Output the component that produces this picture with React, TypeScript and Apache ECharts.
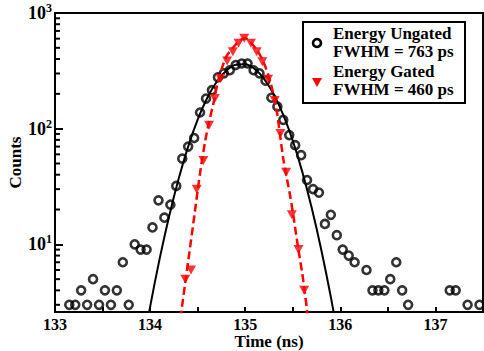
import React, { useEffect, useRef } from 'react';
import * as echarts from 'echarts';

// Ungated (open circles) data
const ungatedTime = [
  133.15, 133.213, 133.275, 133.338, 133.4, 133.463, 133.525, 133.588, 133.65, 133.713,
  133.775, 133.838, 133.9, 133.963, 134.025, 134.088, 134.15, 134.213, 134.275, 134.338,
  134.4, 134.463, 134.525, 134.588, 134.65, 134.713, 134.775, 134.838, 134.9, 134.963,
  135.025, 135.088, 135.15, 135.213, 135.275, 135.338, 135.4, 135.463, 135.525, 135.588,
  135.65, 135.713, 135.775, 135.838, 135.9, 135.963, 136.025, 136.088, 136.15, 136.275,
  136.338, 136.4, 136.463, 136.525, 136.588, 136.65, 136.713, 137.15, 137.213, 137.338,
  137.463,
];
const ungatedCounts = [
  3, 3, 4, 3, 5, 3, 4, 3, 4, 7,
  3, 10, 9, 9, 14, 24, 17, 22, 32, 55,
  70, 83, 138, 182, 215, 278, 301, 320, 355, 366,
  366, 320, 301, 260, 185, 155, 119, 88, 72, 59,
  36, 30, 28, 15, 18, 12, 9, 8, 7, 6,
  4, 4, 4, 5, 7, 4, 3, 4, 4, 3,
  3,
];

// Gated (filled triangles) data
const gatedTime = [
  134.37, 134.43, 134.49, 134.56, 134.62, 134.68, 134.74, 134.81, 134.87, 134.93,
  134.99, 135.06, 135.12, 135.18, 135.24, 135.31, 135.37, 135.43, 135.49, 135.56,
  135.62,
];
const gatedCounts = [
  5, 6, 30, 53, 107, 182, 272, 385, 462, 547,
  604, 547, 462, 379, 268, 175, 91, 42, 18, 9,
  4,
];

// Fit curves
const ungatedFitTime = [
  133.9, 134.0, 134.1, 134.2, 134.3, 134.4, 134.5, 134.6, 134.7, 134.8, 134.9,
  135.0, 135.1, 135.2, 135.3, 135.4, 135.5, 135.6, 135.7, 135.8, 135.9, 136.0,
];
const ungatedFitCounts = [
  1.0, 2.88, 7.48, 17.5, 36.9, 70.0, 119.7, 183.9, 254.6, 317.4, 356.3,
  360.1, 327.5, 268.4, 197.8, 131.4, 78.6, 42.3, 20.5, 8.94, 3.51, 1.24,
];
const gatedFitTime = [
  134.30, 134.33, 134.40, 134.47, 134.53, 134.58, 134.61, 134.67, 134.71, 134.76,
  134.80, 134.88, 134.95, 135.00, 135.05, 135.13, 135.19, 135.26, 135.33, 135.40,
  135.47, 135.50, 135.56, 135.60, 135.62, 135.65, 135.68,
];
const gatedFitCounts = [
  1.8, 2.7, 7.1, 19, 44, 79, 105, 172, 248, 343,
  419, 511, 583, 605, 565, 469, 379, 263, 144, 55,
  27, 19, 8.9, 5.6, 4.2, 2.7, 1.6,
];

const xTickLabels = [133, 134, 135, 136, 137];
const yMinorTicks = [3, 4, 5, 6, 7, 8, 9, 20, 30, 40, 50, 60, 70, 80, 90, 200, 300, 400, 500, 600, 700, 800, 900];
const legendLines = ['Energy Ungated', 'FWHM = 763 ps', 'Energy Gated', 'FWHM = 460 ps'];

const FONT = 'Liberation Serif';
const RED = '#ff0000';

const zip = (xs: number[], ys: number[]) => xs.map((x, i) => [x, ys[i]]);

export default function App() {
  const ref = useRef<HTMLDivElement>(null);
  useEffect(() => {
    document.body.style.margin = '0';
    const chart = echarts.init(ref.current!, null, { renderer: 'svg' });
    const legendTextY = [33, 51, 71, 89];
    chart.setOption({
      animation: false,
      backgroundColor: '#fff',
      grid: {
        left: 55, right: 1, top: 13, bottom: 39,
        outerBoundsMode: 'none', containLabel: false,
        show: true, borderColor: '#000', borderWidth: 2, backgroundColor: 'transparent',
      },
      xAxis: {
        type: 'value', min: 133, max: 137.5, interval: 0.5,
        name: 'Time (ns)', nameLocation: 'middle', nameGap: 21, nameMoveOverlap: false,
        nameTextStyle: { fontFamily: FONT, fontWeight: 'bold', fontSize: 17, color: '#000', verticalAlign: 'top' },
        axisLine: { lineStyle: { color: '#000', width: 2 } },
        axisTick: { inside: true, length: 5, lineStyle: { color: '#000', width: 2 } },
        axisLabel: {
          formatter: (v: number) => (xTickLabels.includes(v) ? String(v) : ''),
          fontFamily: FONT, fontWeight: 'bold', fontSize: 16, color: '#000', margin: 4,
        },
        splitLine: { show: false },
      },
      yAxis: {
        type: 'log', logBase: 10, min: 2.6, max: 1000,
        name: 'Counts', nameLocation: 'middle', nameGap: 31, nameRotate: 90, nameMoveOverlap: false,
        nameTextStyle: { fontFamily: FONT, fontWeight: 'bold', fontSize: 17, color: '#000' },
        axisLine: { lineStyle: { color: '#000', width: 2 } },
        axisTick: { inside: true, length: 8, lineStyle: { color: '#000', width: 2 } },
        axisLabel: {
          formatter: (v: number) => {
            const l = Math.log10(v);
            const e = Math.round(l);
            if (Math.abs(l - e) > 1e-6) return '';
            return `{b|10}{s|${e}}`;
          },
          margin: 3,
          rich: {
            b: { fontFamily: FONT, fontWeight: 'bold', fontSize: 18, color: '#000', lineHeight: 22 },
            s: { fontFamily: FONT, fontWeight: 'bold', fontSize: 12, color: '#000', lineHeight: 12, verticalAlign: 'top' },
          },
        },
        splitLine: { show: false },
      },
      series: [
        {
          type: 'line', data: zip(ungatedFitTime, ungatedFitCounts), symbol: 'none', smooth: 0.3,
          lineStyle: { color: '#000', width: 2 }, z: 2, clip: true, silent: true,
        },
        {
          type: 'scatter', data: zip(ungatedTime, ungatedCounts), symbol: 'circle', symbolSize: 8,
          itemStyle: { color: 'rgba(0,0,0,0)', borderColor: '#000', borderWidth: 2.6 }, z: 3,
        },
        {
          type: 'line', data: zip(gatedFitTime, gatedFitCounts), symbol: 'none', smooth: 0.3,
          lineStyle: { color: RED, width: 2.5, type: [8, 4] }, z: 4, clip: true, silent: true,
        },
        {
          type: 'scatter', data: zip(gatedTime, gatedCounts), symbol: 'triangle', symbolRotate: 180,
          symbolSize: [10, 9], itemStyle: { color: RED }, z: 5,
        },
        {
          type: 'custom', coordinateSystem: 'cartesian2d', silent: true, z: 6,
          data: yMinorTicks.map((v) => [133, v]),
          encode: { x: 0, y: 1 },
          renderItem: (_params: any, api: any) => {
            const p = api.coord([133, api.value(1)]);
            return {
              type: 'line',
              shape: { x1: p[0], y1: p[1], x2: p[0] + 5, y2: p[1] },
              style: { stroke: '#000', lineWidth: 2 },
            };
          },
        },
      ],
      graphic: [
        {
          type: 'rect', z: 100,
          shape: { x: 303, y: 22, width: 162, height: 81 },
          style: { fill: '#fff', stroke: '#000', lineWidth: 2 },
        },
        {
          type: 'circle', z: 101,
          shape: { cx: 317, cy: 43, r: 4 },
          style: { fill: 'none', stroke: '#000', lineWidth: 2.6 },
        },
        {
          type: 'polygon', z: 101,
          shape: { points: [[312, 78], [322, 78], [317, 87]] },
          style: { fill: RED },
        },
        ...legendLines.map((t, i) => ({
          type: 'text', z: 101, x: 333, y: legendTextY[i],
          style: {
            text: t, fontFamily: FONT, fontWeight: 'bold', fontSize: 17, fill: '#000',
            verticalAlign: 'middle', align: 'left',
          },
        })),
      ],
    });
    return () => chart.dispose();
  }, []);
  return <div ref={ref} style={{ width: 484, height: 351 }} />;
}
